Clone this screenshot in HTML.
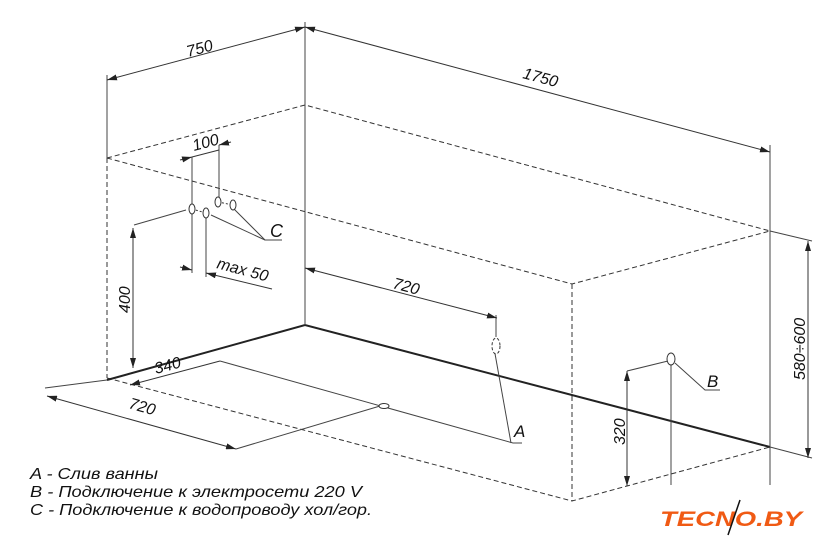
<!DOCTYPE html>
<html><head><meta charset="utf-8"><style>
html,body{margin:0;padding:0;background:#fff;}
svg{display:block;}
text{font-family:"Liberation Sans",sans-serif;font-style:italic;fill:#111;}
</style></head><body>
<svg width="840" height="552" viewBox="0 0 840 552" xmlns="http://www.w3.org/2000/svg">
<defs>
<marker id="a" viewBox="0 0 10 6" refX="10" refY="3" markerWidth="10" markerHeight="6" orient="auto-start-reverse" markerUnits="userSpaceOnUse"><path d="M0,0L10,3L0,6z" fill="#222"/></marker>
</defs>
<g fill="none" stroke="#333" stroke-width="1" stroke-dasharray="5,3">
<path d="M107,158L305,105L770,231"/>
<path d="M107,158L572,284L770,231"/>
<path d="M107,158V378"/>
<path d="M572,284V501"/>
<path d="M107,378L572,501L770,447"/>
</g>
<g fill="none" stroke="#222" stroke-width="2">
<path d="M107,380L305,325L770,447"/>
</g>
<g fill="none" stroke="#444" stroke-width="1">
<path d="M305,22V325"/>
<path d="M107,75V158"/>
<path d="M770,145V485"/>
<path d="M770,231L812,241"/>
<path d="M770,447L812,458"/>
<path d="M107,380L45,388"/>
<path d="M671,362V485"/>
<path d="M627,371L668,361"/>
<path d="M134,225L186,210"/>
<path d="M192,157V273"/>
<path d="M219,145V202"/>
<path d="M206,216V277"/>
<path d="M496,315V337"/>
<path d="M220,361L513,443L522,443"/>
<path d="M236,449L380,406"/>
<path d="M494,348L511,443"/>
<path d="M233,208L265,240L282,240"/>
<path d="M211,215L265,240"/>
<path d="M675,363L705,390L720,390"/>
</g>
<g fill="none" stroke="#333" stroke-width="1" marker-start="url(#a)" marker-end="url(#a)">
<path d="M107,80L305,27"/>
<path d="M305,27L770,152"/>
<path d="M808,241V458"/>
<path d="M627,371V486"/>
<path d="M133,228V368"/>
<path d="M130,385L220,361" marker-start="url(#a)" marker-end="none"/>
<path d="M47,396L236,449"/>
<path d="M305,268L497,318"/>
</g>
<g fill="none" stroke="#333" stroke-width="1">
<path d="M180,160L192,157" marker-end="url(#a)"/>
<path d="M231,142L219,145" marker-end="url(#a)"/>
<path d="M192,157L219,150"/>
<path d="M180,267L192,270" marker-end="url(#a)"/>
<path d="M272,289L206,273" marker-end="url(#a)"/>
</g>
<g fill="#fff" stroke="#333" stroke-width="1">
<path d="M218,202L233,205" stroke-dasharray="2,2"/>
<ellipse cx="218" cy="202" rx="3" ry="5"/>
<ellipse cx="233" cy="205" rx="3" ry="5"/>
<path d="M192,209L206,213" stroke-dasharray="2,2"/>
<ellipse cx="192" cy="209" rx="3" ry="5"/>
<ellipse cx="206" cy="213" rx="3" ry="5"/>
<ellipse cx="496" cy="346" rx="4" ry="8" stroke-dasharray="3,2"/>
<ellipse cx="671" cy="359" rx="4" ry="6"/>
<ellipse cx="384" cy="406" rx="5" ry="2.5"/>
</g>
<g font-size="16">
<text x="0" y="0" transform="translate(188,57) rotate(-15)">750</text>
<text x="0" y="0" transform="translate(522,78) rotate(15)">1750</text>
<text x="0" y="0" transform="translate(194,151) rotate(-15)">100</text>
<text x="0" y="0" transform="translate(216,268) rotate(15)">max 50</text>
<text x="0" y="0" transform="translate(392,288) rotate(15)">720</text>
<text x="0" y="0" transform="translate(156,374) rotate(-15)">340</text>
<text x="0" y="0" transform="translate(128,408) rotate(16)">720</text>
<text x="0" y="0" transform="translate(130,313) rotate(-90)">400</text>
<text x="0" y="0" transform="translate(625,445) rotate(-90)">320</text>
<text x="0" y="0" transform="translate(805,380) rotate(-90)">580÷600</text>
<text x="270" y="237" font-size="18">C</text>
<text x="707" y="387" font-size="17">B</text>
<text x="514" y="437" font-size="17">A</text>
</g>
<g font-size="16">
<text x="30" y="479" textLength="128" lengthAdjust="spacingAndGlyphs">A - Слив ванны</text>
<text x="30" y="497" textLength="332" lengthAdjust="spacingAndGlyphs">B - Подключение к электросети 220 V</text>
<text x="30" y="515" textLength="342" lengthAdjust="spacingAndGlyphs">C - Подключение к водопроводу хол/гор.</text>
</g>
<text x="660" y="526" font-size="21" font-weight="bold" textLength="142" lengthAdjust="spacingAndGlyphs" style="fill:#f05a14;">TECNO.BY</text>
<path d="M740,500L728,535" stroke="#111" stroke-width="1.5"/>
</svg>
</body></html>
